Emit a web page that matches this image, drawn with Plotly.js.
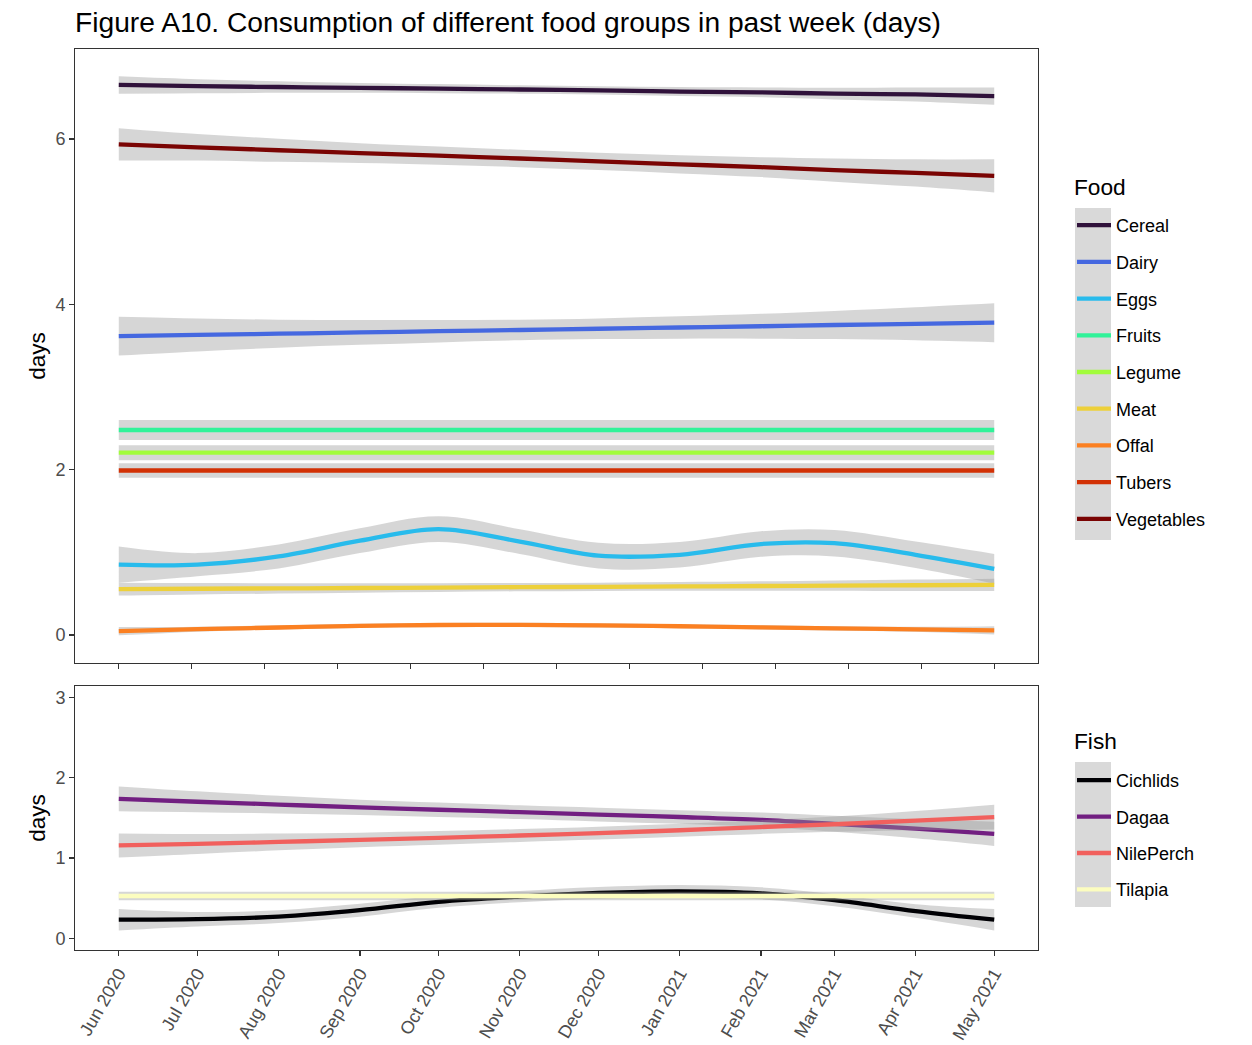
<!DOCTYPE html>
<html><head><meta charset="utf-8">
<script src="https://cdn.plot.ly/plotly-3.0.1.min.js"></script>
<style>html,body{margin:0;padding:0;background:#fff}</style>
</head><body><div id="chart" style="width:1252px;height:1045px"></div>
<script>
// ---- data ----
const months = ['2020-06-01','2020-07-01','2020-08-01','2020-09-01','2020-10-01','2020-11-01',
                '2020-12-01','2021-01-01','2021-02-01','2021-03-01','2021-04-01','2021-05-01'];

const foodGroups = ['Cereal','Dairy','Eggs','Fruits','Legume','Meat','Offal','Tubers','Vegetables'];
const foodColors = ['#30123B','#4568E0','#28BBEC','#31F299','#A2FC3C','#EDD03A','#FB8022','#D23105','#7A0403'];

const cerealMean = [6.655,6.64,6.63,6.62,6.61,6.60,6.59,6.575,6.565,6.55,6.54,6.52];
const cerealCI   = [0.105,0.085,0.07,0.06,0.055,0.05,0.05,0.055,0.06,0.07,0.085,0.105];
const dairyMean  = [3.616,3.63,3.645,3.66,3.675,3.69,3.705,3.72,3.735,3.75,3.765,3.778];
const dairyCI    = [0.235,0.2,0.17,0.15,0.135,0.125,0.125,0.135,0.15,0.17,0.2,0.235];
const eggsMean   = [0.85,0.85,0.95,1.14,1.28,1.13,0.96,0.97,1.10,1.11,0.97,0.80];
const eggsCI     = [0.22,0.14,0.145,0.15,0.155,0.15,0.155,0.155,0.155,0.16,0.16,0.18];
const fruitsMean = [2.48,2.48,2.48,2.48,2.48,2.48,2.48,2.48,2.48,2.48,2.48,2.48];
const fruitsCI   = [0.12,0.12,0.12,0.12,0.12,0.12,0.12,0.12,0.12,0.12,0.12,0.12];
const legumeMean = [2.205,2.205,2.205,2.205,2.205,2.205,2.205,2.205,2.205,2.205,2.205,2.205];
const legumeCI   = [0.09,0.09,0.09,0.09,0.09,0.09,0.09,0.09,0.09,0.09,0.09,0.09];
const meatMean   = [0.554,0.559,0.563,0.568,0.573,0.578,0.582,0.587,0.592,0.597,0.601,0.606];
const meatCI     = [0.078,0.07,0.063,0.057,0.053,0.05,0.05,0.053,0.057,0.063,0.07,0.075];
const offalMean  = [0.045,0.07,0.09,0.11,0.12,0.122,0.115,0.105,0.092,0.08,0.068,0.055];
const offalCI    = [0.05,0.03,0.025,0.025,0.025,0.025,0.025,0.025,0.025,0.025,0.03,0.05];
const tubersMean = [1.99,1.99,1.99,1.99,1.99,1.99,1.99,1.99,1.99,1.99,1.99,1.99];
const tubersCI   = [0.087,0.087,0.087,0.087,0.087,0.087,0.087,0.087,0.087,0.087,0.087,0.087];
const vegMean    = [5.935,5.90,5.865,5.83,5.80,5.765,5.73,5.695,5.66,5.625,5.59,5.555];
const vegCI      = [0.195,0.16,0.14,0.12,0.11,0.105,0.105,0.11,0.12,0.14,0.165,0.2];

const fishGroups = ['Cichlids','Dagaa','NilePerch','Tilapia'];
const fishColors = ['#000004','#721F81','#F1605D','#FCFDBF'];
const cichlidsMean  = [0.232,0.238,0.27,0.35,0.455,0.52,0.565,0.585,0.56,0.475,0.34,0.232];
const cichlidsCI    = [0.133,0.09,0.08,0.08,0.075,0.07,0.075,0.08,0.075,0.075,0.085,0.133];
const dagaaMean     = [1.736,1.70,1.665,1.63,1.60,1.57,1.54,1.51,1.475,1.425,1.365,1.30];
const dagaaCI       = [0.155,0.13,0.11,0.095,0.09,0.085,0.085,0.085,0.09,0.1,0.12,0.15];
const nilePerchMean = [1.156,1.175,1.20,1.225,1.25,1.28,1.31,1.345,1.385,1.42,1.465,1.508];
const nilePerchCI   = [0.15,0.125,0.105,0.09,0.085,0.08,0.08,0.08,0.085,0.095,0.12,0.155];
const tilapiaMean   = [0.527,0.527,0.527,0.527,0.527,0.527,0.527,0.527,0.527,0.527,0.527,0.527];
const tilapiaCI     = [0.054,0.054,0.054,0.054,0.054,0.054,0.054,0.054,0.054,0.054,0.054,0.054];

const yTicksFood = [0,2,4,6];
const yTicksFish = [0,1,2,3];

// ---- build traces ----
const foodMeans = [cerealMean,dairyMean,eggsMean,fruitsMean,legumeMean,meatMean,offalMean,tubersMean,vegMean];
const foodCIs   = [cerealCI,dairyCI,eggsCI,fruitsCI,legumeCI,meatCI,offalCI,tubersCI,vegCI];
const fishMeans = [cichlidsMean,dagaaMean,nilePerchMean,tilapiaMean];
const fishCIs   = [cichlidsCI,dagaaCI,nilePerchCI,tilapiaCI];

const ribbonFill = 'rgba(153,153,153,0.4)';
const traces = [];
function addSeries(name, color, mean, ci, xa, ya, legendId) {
  const lo = mean.map((v,i)=>v-ci[i]);
  const hi = mean.map((v,i)=>v+ci[i]);
  traces.push({x:months, y:lo, xaxis:xa, yaxis:ya, type:'scatter', mode:'lines',
    line:{width:0, shape:'spline', color:'rgba(0,0,0,0)'}, showlegend:false, hoverinfo:'skip',
    legendgroup:name, legend:legendId});
  traces.push({x:months, y:hi, xaxis:xa, yaxis:ya, type:'scatter', mode:'lines', fill:'tonexty',
    fillcolor:ribbonFill, line:{width:0, shape:'spline', color:'rgba(0,0,0,0)'}, showlegend:false,
    hoverinfo:'skip', legendgroup:name, legend:legendId});
  traces.push({x:months, y:mean, xaxis:xa, yaxis:ya, type:'scatter', mode:'lines', name:name,
    line:{width:4.3, shape:'spline', color:color}, legendgroup:name, legend:legendId});
}
foodGroups.forEach((g,i)=>addSeries(g, foodColors[i], foodMeans[i], foodCIs[i], 'x', 'y', 'legend'));
fishGroups.forEach((g,i)=>addSeries(g, fishColors[i], fishMeans[i], fishCIs[i], 'x2', 'y2', 'legend2'));

// x range with ggplot-like 5% expansion
const t0 = Date.parse(months[0]+'T00:00:00Z');
const t1 = Date.parse(months[months.length-1]+'T00:00:00Z');
const span = t1 - t0;
const xr = [new Date(t0 - 0.05*span).toISOString(), new Date(t1 + 0.05*span).toISOString()];
// top panel: 13 evenly spaced unlabeled ticks
const topTicks = [];
for (let i = 0; i <= 12; i++) topTicks.push(new Date(t0 + i*span/12).toISOString());

const FONT = 'Liberation Sans, Arial, sans-serif';
const axisCommon = {
  showgrid:false, zeroline:false, showline:true, mirror:true, linecolor:'#333333', linewidth:1,
  ticks:'outside', ticklen:5, tickwidth:1.2, tickcolor:'#333333',
  tickfont:{family:FONT, size:18, color:'#4D4D4D'}
};

const legendCommon = {xanchor:'left', yanchor:'top', tracegroupgap:10.3, itemwidth:34,
  font:{family:FONT, size:18, color:'#000'}, bgcolor:'rgba(0,0,0,0)', x:(1072-75)/963};

const layout = {
  width:1252, height:1045,
  paper_bgcolor:'#ffffff', plot_bgcolor:'#ffffff',
  font:{family:FONT, color:'#000000'},
  margin:{l:75, r:214, t:49, b:95},
  title:{text:'Figure A10. Consumption of different food groups in past week (days)',
    x:75/1252, xanchor:'left', xref:'container', y:1-22/1045, yanchor:'middle', yref:'container',
    font:{family:FONT, size:28.2, color:'#000000'}},
  xaxis: Object.assign({}, axisCommon, {type:'date', range:xr, domain:[0,1], anchor:'y',
    tickmode:'array', tickvals:topTicks, showticklabels:false}),
  yaxis: Object.assign({}, axisCommon, {domain:[0.3185,1], anchor:'x', range:[-0.34,7.09],
    tickmode:'array', tickvals:yTicksFood, ticktext:yTicksFood.map(String),
    title:{text:'days', font:{family:FONT, size:22.5, color:'#000000'}, standoff:3}}),
  xaxis2: Object.assign({}, axisCommon, {type:'date', range:xr, domain:[0,1], anchor:'y2',
    tick0:months[0], dtick:'M1', tickformat:'%b %Y', tickangle:-60}),
  yaxis2: Object.assign({}, axisCommon, {domain:[0,0.293], anchor:'x2', range:[-0.145,3.14],
    tickmode:'array', tickvals:yTicksFish, ticktext:yTicksFish.map(String),
    title:{text:'days', font:{family:FONT, size:22.5, color:'#000000'}, standoff:3}}),
  legend: Object.assign({}, legendCommon, {y:(950-207)/901}),
  legend2: Object.assign({}, legendCommon, {y:(950-762)/901, tracegroupgap:10}),
  annotations:[
    {text:'Food', xref:'paper', yref:'paper', x:(1072-75)/963, y:(950-187)/901,
      xanchor:'left', yanchor:'middle', showarrow:false, font:{family:FONT, size:22.7, color:'#000'}},
    {text:'Fish', xref:'paper', yref:'paper', x:(1072-75)/963, y:(950-741)/901,
      xanchor:'left', yanchor:'middle', showarrow:false, font:{family:FONT, size:22.7, color:'#000'}}
  ],
  shapes:[
    {type:'rect', xref:'paper', yref:'paper', x0:(1075-75)/963, x1:(1111-75)/963,
      y0:(950-540)/901, y1:(950-208)/901, fillcolor:'#D9D9D9', line:{width:0}, layer:'below'},
    {type:'rect', xref:'paper', yref:'paper', x0:(1075-75)/963, x1:(1111-75)/963,
      y0:(950-907)/901, y1:(950-762)/901, fillcolor:'#D9D9D9', line:{width:0}, layer:'below'}
  ]
};

Plotly.newPlot('chart', traces, layout, {displayModeBar:false, staticPlot:true});
</script></body></html>
